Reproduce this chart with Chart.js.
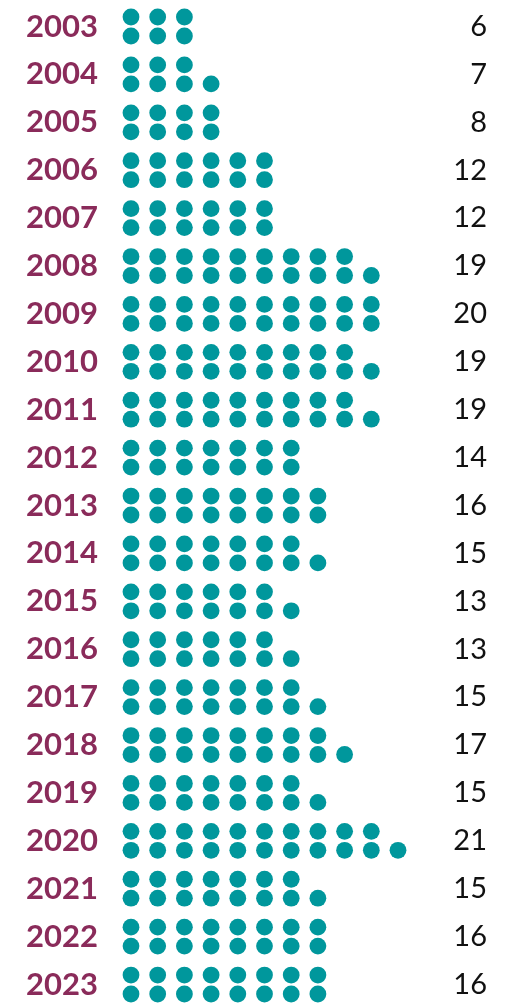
<!DOCTYPE html>
<html>
<head>
<meta charset="utf-8">
<script src="https://cdn.jsdelivr.net/npm/chart.js@4"></script>
<style>
  body { margin: 0; background: #fff; }
  #wrap { width: 510px; height: 1006px; position: relative; }
</style>
</head>
<body>
<div id="wrap"><canvas id="chart"></canvas></div>
<script>
// data
const years = ['2003', '2004', '2005', '2006', '2007', '2008', '2009', '2010', '2011', '2012',
               '2013', '2014', '2015', '2016', '2017', '2018', '2019', '2020', '2021', '2022', '2023'];
const counts = [6, 7, 8, 12, 12, 19, 20, 19, 19, 14, 16, 15, 13, 13, 15, 17, 15, 21, 15, 16, 16];

const TEAL = '#00979c';
const PLUM = '#8a2b5a';

// each count becomes two rows of dots, the lower row takes the odd one
const dots = [];
counts.forEach((n, row) => {
    for (let i = 0; i < n; i++) {
        const col = Math.floor(i / 2);
        const lower = i % 2 === 0;
        dots.push({ x: col, y: row + (lower ? 0.198 : -0.198) });
    }
});

const yMin = -0.378;
const yMax = 20.273;

function rowTicks(scale) {
    scale.ticks = years.map((_, i) => ({ value: i }));
}
function noPad(width) {
    return scale => {
        scale.width = width;
        scale.paddingTop = 0;
        scale.paddingBottom = 0;
    };
}

new Chart(document.getElementById('chart'), {
    type: 'scatter',
    data: {
        datasets: [{
            data: dots,
            backgroundColor: TEAL,
            borderWidth: 0,
            pointRadius: 8.4,
            pointHoverRadius: 8.4,
            clip: false
        }]
    },
    options: {
        responsive: true,
        maintainAspectRatio: false,
        animation: false,
        layout: { padding: { left: 0, right: 23, top: 0, bottom: 0 } },
        plugins: { legend: { display: false }, tooltip: { enabled: false } },
        scales: {
            x: { display: false, min: -0.7865, max: 11.086 },
            y: {
                position: 'left',
                reverse: true,
                min: yMin, max: yMax,
                afterBuildTicks: rowTicks,
                afterFit: noPad(110),
                grid: { display: false, drawTicks: false },
                border: { display: false },
                ticks: {
                    autoSkip: false,
                    padding: 12,
                    color: PLUM,
                    font: { family: 'Lato', size: 31, weight: 'bold' },
                    callback: (v) => years[v]
                }
            },
            y2: {
                position: 'right',
                reverse: true,
                min: yMin, max: yMax,
                afterBuildTicks: rowTicks,
                afterFit: noPad(60),
                grid: { display: false, drawTicks: false },
                border: { display: false },
                ticks: {
                    autoSkip: false,
                    crossAlign: 'far',
                    color: '#111',
                    font: { family: 'Lato', size: 29 },
                    callback: (v) => counts[v]
                }
            }
        }
    }
});
</script>
</body>
</html>
